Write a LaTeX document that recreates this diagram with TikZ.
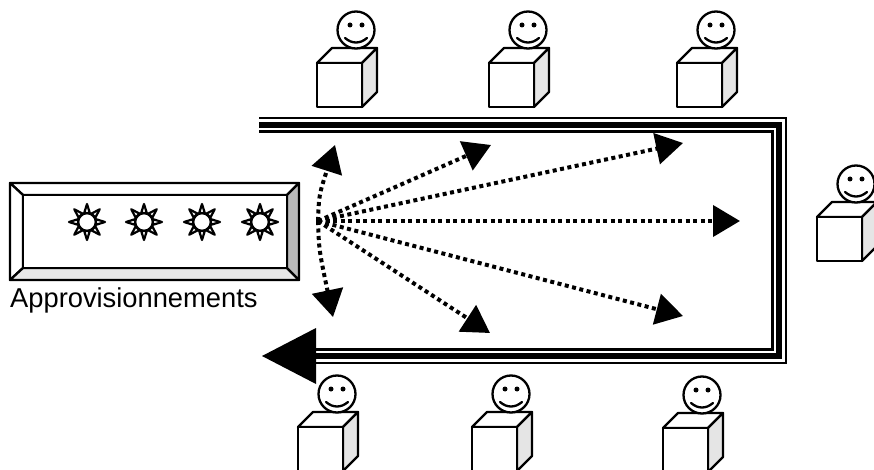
\documentclass[tikz,border=0pt]{standalone}
\usepackage{fontspec}
\setmainfont{Liberation Sans}
\usetikzlibrary{arrows.meta}
\begin{document}
\begin{tikzpicture}[x=1pt,y=-1pt,
  outline/.style={draw=black,line width=2.3pt,line join=round},
  flow/.style={line width=4pt,dash pattern=on 4pt off 3.5pt,
    -{Triangle[length=27pt,width=31pt]}},
  ray/.style={draw=black,line width=2.2pt,fill=white,line join=round},
  person/.pic={
    % cube: top, side, front
    \path[outline,fill=white] (0,0) -- (15,-15) -- (60,-15) -- (45,0) -- cycle;
    \path[outline,fill=black!10] (45,0) -- (60,-15) -- (60,29) -- (45,44) -- cycle;
    \path[outline,fill=white] (0,0) rectangle (45,44);
    % smiling face
    \path[outline,fill=white] (39,-33) circle[radius=18.5];
    \fill (33,-38) circle[radius=2.5] (45,-38) circle[radius=2.5];
    \draw[line width=2.3pt,line cap=round] (28,-25) .. controls (35,-19) and (43,-19) .. (50,-25);
  },
  sun/.pic={
    \foreach \a in {0,45,...,315}{
      \path[ray] (\a-17:9.5) -- (\a:18) -- (\a+17:9.5) -- cycle;
    }
    \path[outline,fill=white] (0,0) circle[radius=8.8];
  }
]
\useasboundingbox (0,0) rectangle (874,470);

% triple-lined loop with the large return arrow
\coordinate (ls) at (259,125);
\coordinate (lc1) at (779,125);
\coordinate (lc2) at (779,356);
\coordinate (le) at (316,356);
\coordinate (lt) at (262,356);
\coordinate (ah1) at (316,328);
\coordinate (ah2) at (316,384);
\draw[line width=15.5pt,black,line join=miter] (ls) -- (lc1) -- (lc2) -- (le);
\draw[line width=11pt,white,line join=miter] (ls) -- (lc1) -- (lc2) -- (le);
\draw[line width=5.5pt,black,line join=miter] (ls) -- (lc1) -- (lc2) -- (le);
\fill (lt) -- (ah1) -- (ah2) -- cycle;

% supply cabinet
\coordinate (o1) at (10,183);  \coordinate (o2) at (299,183);
\coordinate (o3) at (299,280); \coordinate (o4) at (10,280);
\coordinate (i1) at (23,195);  \coordinate (i2) at (287,195);
\coordinate (i3) at (287,268); \coordinate (i4) at (23,268);
\path[outline,fill=white] (o1) -- (o2) -- (i2) -- (i1) -- cycle;
\path[outline,fill=white] (o1) -- (i1) -- (i4) -- (o4) -- cycle;
\path[outline,fill=black!9] (o4) -- (i4) -- (i3) -- (o3) -- cycle;
\path[outline,fill=black!27] (o2) -- (o3) -- (i3) -- (i2) -- cycle;
\path[outline,fill=white] (i1) rectangle (i3);
\foreach \x [count=\i] in {87,144,202,260}
  \pic (sun\i) at (\x,222) {sun};
\node[font=\fontsize{27.3}{30}\selectfont,anchor=base west,inner sep=0pt]
  (supply) at (10,307) {Approvisionnements};

% distribution paths
\coordinate (src) at (318,221);
\coordinate (t1) at (335,145);
\coordinate (t2) at (333,317);
\coordinate (t3) at (491,145);
\coordinate (t4) at (683,143);
\coordinate (t5) at (740,221);
\coordinate (t6) at (683,316);
\coordinate (t7) at (490,333);
\draw[flow] (src) .. controls (319,195) .. (t1);
\draw[flow] (src) .. controls (319,250) .. (t2);
\foreach \t in {t3,t4,t5,t6,t7}
  \draw[flow] (src) -- (\t);

% workstations
\pic (pt1) at (317,63) {person};
\pic (pt2) at (489,63) {person};
\pic (pt3) at (677,63) {person};
\pic (pr) at (817,217) {person};
\pic (pb1) at (298,427) {person};
\pic (pb2) at (472,427) {person};
\pic (pb3) at (663,428) {person};
\end{tikzpicture}
\end{document}
